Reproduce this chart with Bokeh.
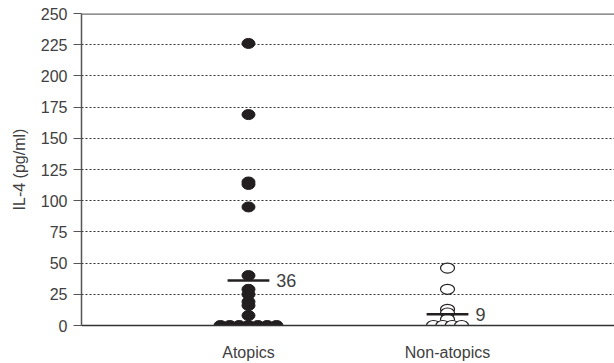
from bokeh.plotting import figure
from bokeh.models import FixedTicker, Span
from bokeh.core.properties import value
from bokeh.embed import file_html
from bokeh.resources import INLINE

# ---- data ----
groups = ["Atopics", "Non-atopics"]
atopics = [226, 169, 115, 113, 95, 40, 29, 25, 19, 16, 8, 0, 0, 0, 0, 0, 0, 0]
non_atopics = [46, 29, 13, 10, 5, 0, 0, 0, 0]
means = [36, 9]
mean_labels = ["36", "9"]
y_ticks = [0, 25, 50, 75, 100, 125, 150, 175, 200, 225, 250]

FONT = "Liberation Sans"
DARK = "#231f20"
TXT = "#404040"

p = figure(width=614, height=363, output_backend="svg", toolbar_location=None,
           x_range=(0.161, 2.839), y_range=(0, 250),
           min_border_left=81, min_border_right=0, min_border_top=13, min_border_bottom=38)
p.outline_line_color = None
p.background_fill_color = None
p.border_fill_color = "white"

# grid
p.xgrid.visible = False
p.ygrid.ticker = FixedTicker(ticks=y_ticks[1:-1])
p.ygrid.grid_line_color = "#333333"
p.ygrid.grid_line_dash = "2 2"
p.ygrid.grid_line_width = 1

# top border line
p.add_layout(Span(location=250, dimension="width", line_color="#6d6d6d", line_width=2.5))

# axes
p.yaxis.ticker = FixedTicker(ticks=y_ticks)
p.yaxis.axis_line_color = "#555555"
p.yaxis.axis_line_width = 1.5
p.yaxis.major_tick_line_color = "#555555"
p.yaxis.major_tick_out = 8
p.yaxis.major_tick_in = 0
p.yaxis.minor_tick_line_color = None
p.yaxis.major_label_standoff = 6
p.yaxis.major_label_text_font = FONT
p.yaxis.major_label_text_font_size = "16px"
p.yaxis.major_label_text_color = TXT
p.yaxis.axis_label = "IL-4 (pg/ml)"
p.yaxis.axis_label_text_font = FONT
p.yaxis.axis_label_text_font_size = "16px"
p.yaxis.axis_label_text_font_style = "normal"
p.yaxis.axis_label_text_color = TXT
p.yaxis.axis_label_standoff = 10

p.xaxis.ticker = FixedTicker(ticks=[1, 2])
p.xaxis.major_label_overrides = {1: groups[0], 2: groups[1]}
p.xaxis.axis_line_color = "#333333"
p.xaxis.axis_line_width = 1.5
p.xaxis.major_tick_line_color = None
p.xaxis.minor_tick_line_color = None
p.xaxis.major_label_standoff = 12
p.xaxis.major_label_text_font = FONT
p.xaxis.major_label_text_font_size = "16px"
p.xaxis.major_label_text_color = TXT

# spread identical values horizontally
SPACING = 0.047

def spread(vals, center):
    xs, ys = [], []
    counts = {}
    for v in vals:
        counts[v] = counts.get(v, 0) + 1
    seen = {}
    for v in vals:
        n = counts[v]
        i = seen.get(v, 0)
        seen[v] = i + 1
        xs.append(center + (i - (n - 1) / 2) * SPACING)
        ys.append(v)
    return xs, ys

ax, ay = spread(atopics, 1)
nx, ny = spread(non_atopics, 2)

p.ellipse(x=ax, y=ay, width=13, height=10, width_units="screen", height_units="screen",
          fill_color=DARK, line_color=DARK, line_width=1)
p.ellipse(x=nx, y=ny, width=14, height=10, width_units="screen", height_units="screen",
          fill_color="white", line_color=DARK, line_width=1.2)

# mean lines
half = 0.105
centers = [1, 2]
p.segment(x0=[c - half for c in centers], y0=means, x1=[c + half for c in centers], y1=means,
          line_color=DARK, line_width=2.5)

p.text(x=[c + 0.14 for c in centers], y=means, text=mean_labels,
       text_font=value(FONT), text_font_size="18px", text_color=TXT,
       text_baseline="middle", text_align="left")

open("out.html", "w").write(file_html(p, INLINE))
